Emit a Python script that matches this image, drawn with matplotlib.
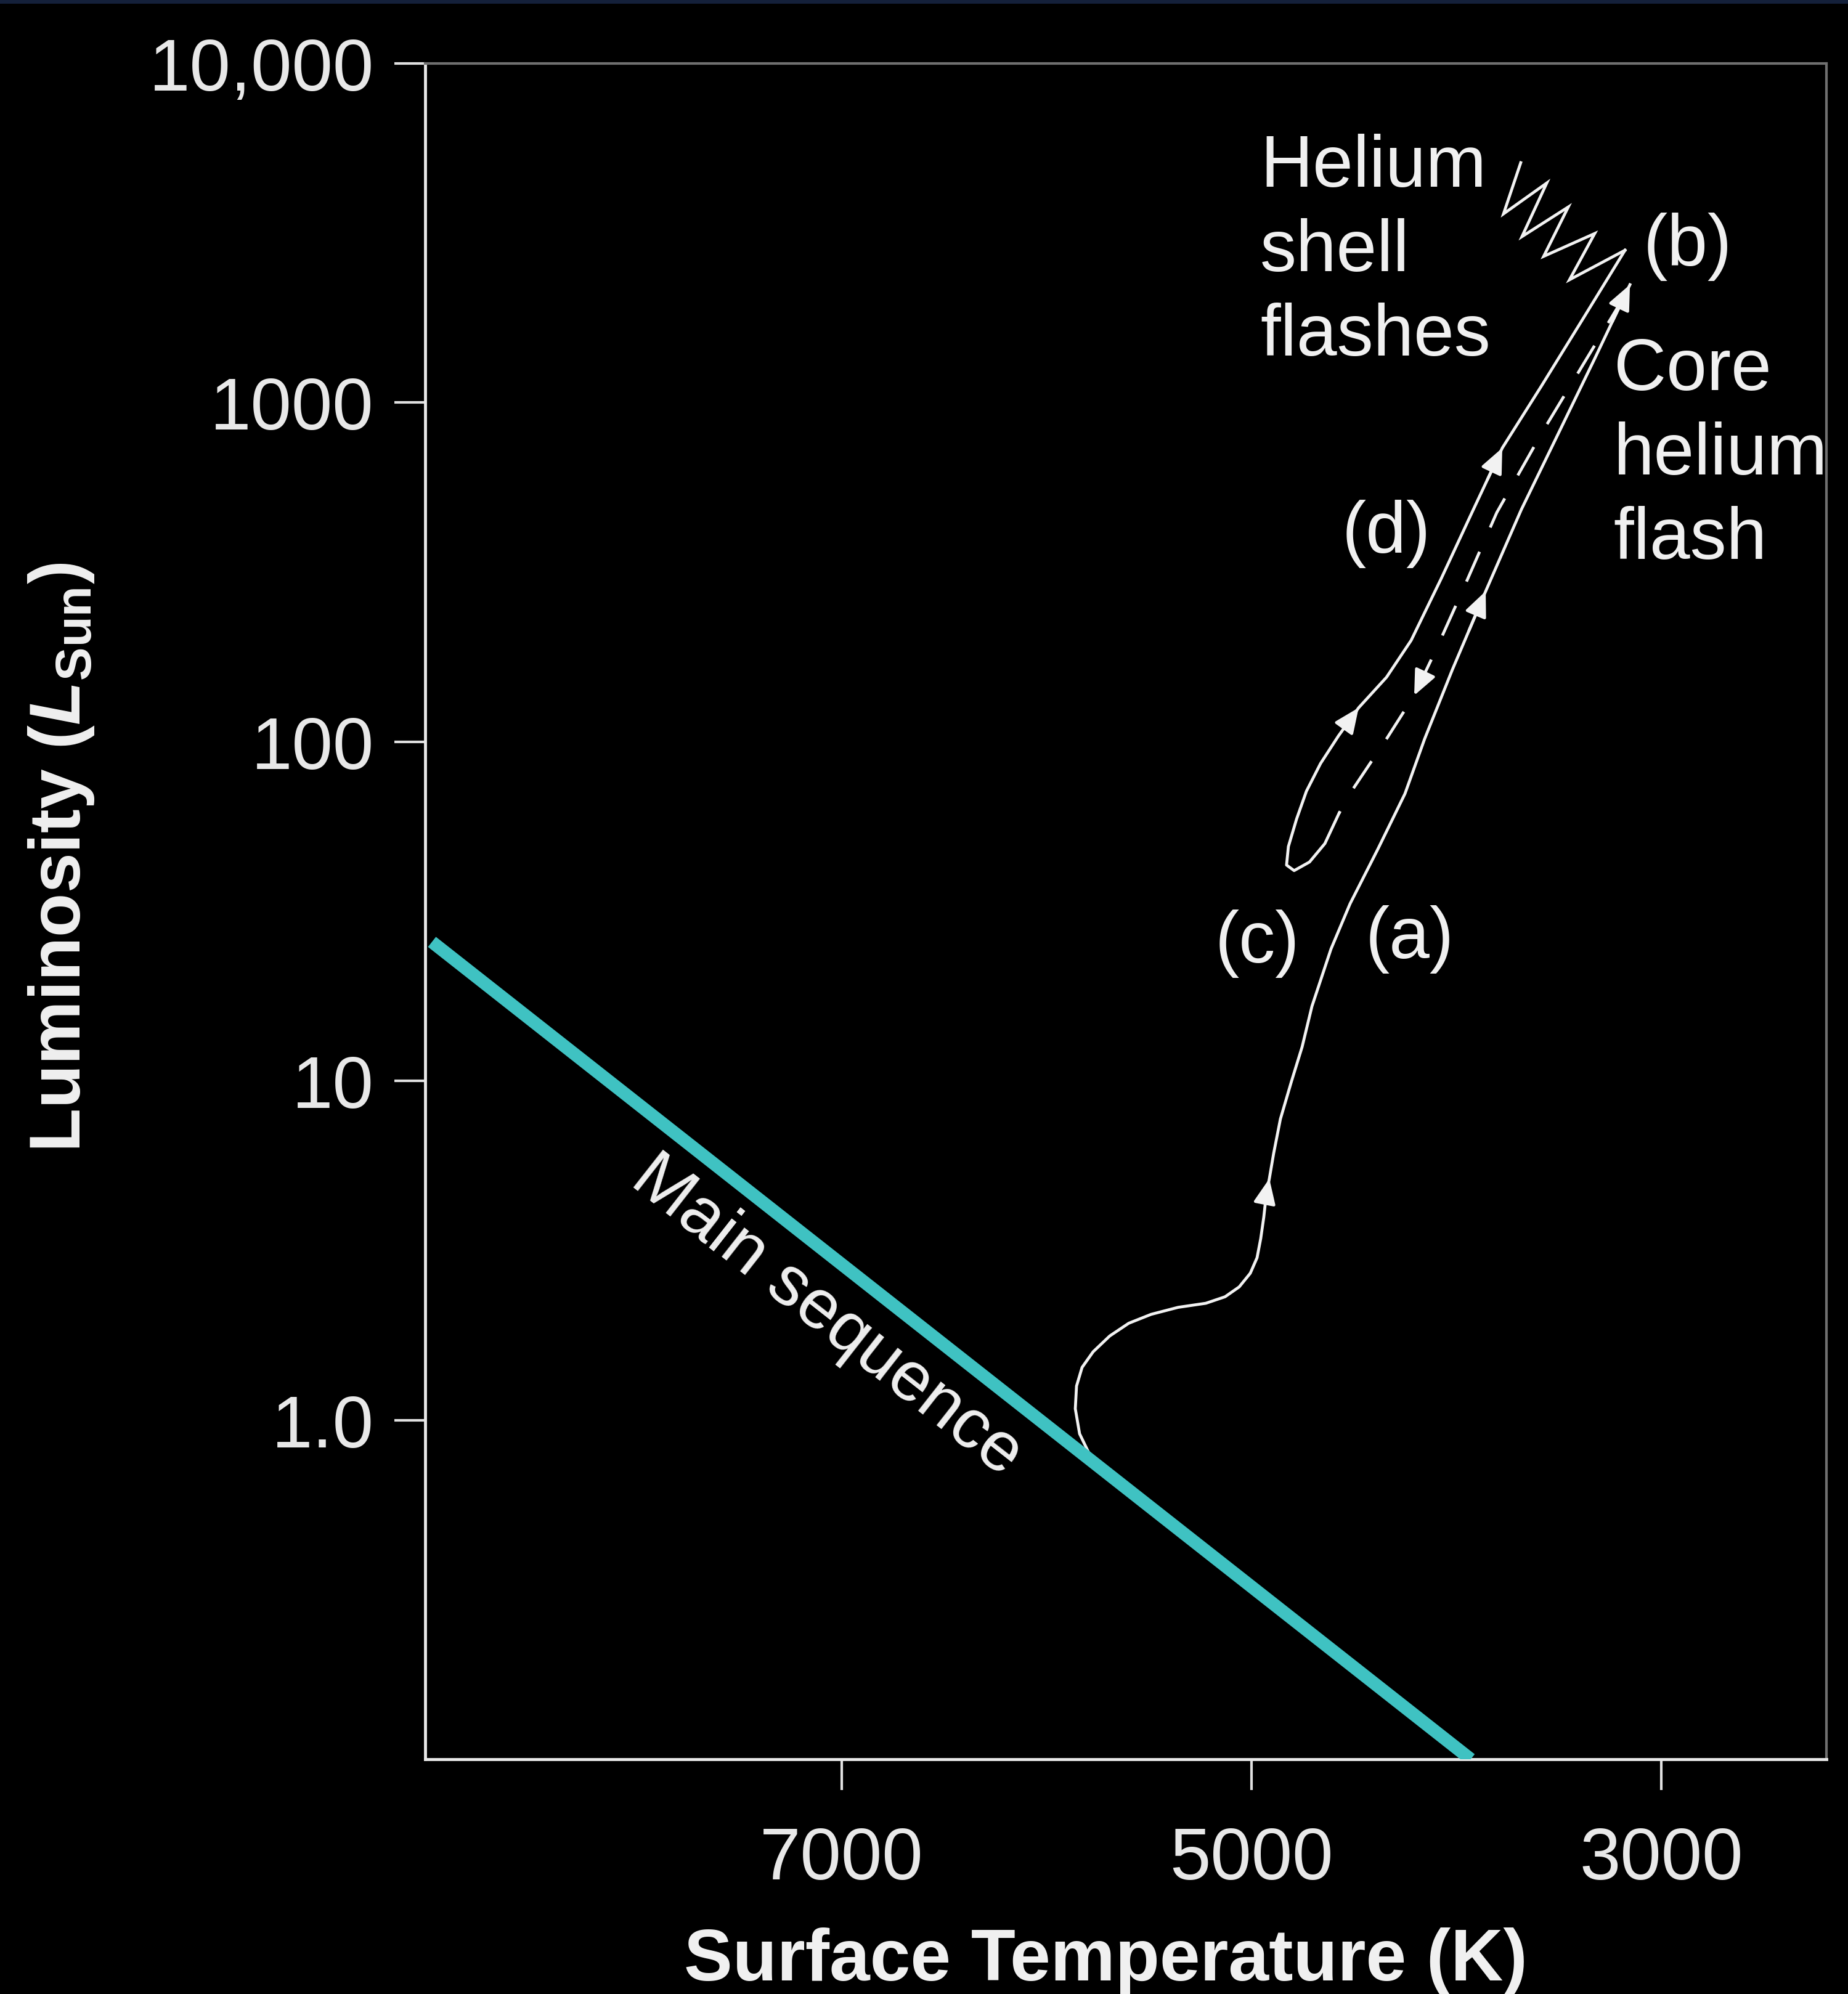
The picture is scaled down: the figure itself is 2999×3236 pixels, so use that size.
import numpy as np
import matplotlib
matplotlib.use('Agg')
import matplotlib.pyplot as plt
from matplotlib.patches import Rectangle
from matplotlib.ticker import NullLocator, FixedLocator, FixedFormatter

plt.rcParams['font.family'] = ['Liberation Sans', 'DejaVu Sans']
plt.rcParams['mathtext.fontset'] = 'custom'
plt.rcParams['mathtext.rm'] = 'Liberation Sans'
plt.rcParams['mathtext.it'] = 'Liberation Sans:italic'
plt.rcParams['mathtext.bf'] = 'Liberation Sans:bold'
plt.rcParams['mathtext.bfit'] = 'Liberation Sans:bold:italic'
plt.rcParams['lines.scale_dashes'] = False

# ---------------- data ----------------
x_ticks = [7000, 5000, 3000]
x_tick_labels = ['7000', '5000', '3000']
y_ticks = [1, 10, 100, 1000, 10000]
y_tick_labels = ['1.0', '10', '100', '1000', '10,000']

# main sequence
ms_temp = [9000, 3930]
ms_lum = [25.7, 0.10]

# subgiant + red giant branch (a) up to the tip (b)
rgb_temp = [5785, 5839, 5860, 5854, 5827, 5773, 5692, 5599, 5490, 5358, 5223,
            5129, 5060, 5006, 4973, 4955, 4940, 4928, 4913, 4892, 4859, 4805,
            4753, 4705, 4612, 4519, 4383, 4251, 4155, 4020, 3857, 3683, 3496,
            3325, 3153]
rgb_lum = [0.78, 0.911, 1.08, 1.26, 1.43, 1.59, 1.77, 1.93, 2.05, 2.15, 2.21,
           2.31, 2.47, 2.71, 3.01, 3.43, 3.97, 4.62, 5.15, 6.11, 7.72, 9.97,
           12.6, 16.6, 24.5, 33.3, 48.3, 70.3, 102, 163, 278, 484, 826,
           1348, 2227]
rgb_arrow_idx = [18, 30, 34]

# core helium flash (dashed) down to the horizontal branch (c)
flash_temp = [3177, 3577, 3803, 3977, 4101, 4206, 4341, 4516, 4573]
flash_lum = [2074, 826, 474, 273, 186, 137, 102, 70.9, 61.5]
flash_arrow_idx = [5]

# horizontal branch loop + asymptotic giant branch (d)
agb_temp = [4573, 4642, 4717, 4792, 4829, 4820, 4780, 4732, 4663, 4576, 4477,
            4341, 4221, 4074, 3920, 3776, 3586, 3376, 3177]
agb_lum = [61.5, 50.1, 44.2, 41.7, 43.3, 49.1, 59.2, 71.5, 86.3, 104, 126,
           155, 199, 303, 480, 735, 1117, 1792, 2814]
agb_arrow_idx = [10, 15]

# helium shell flashes (zigzag)
shell_temp = [3177, 3448, 3325, 3574, 3454, 3680, 3559, 3770, 3686]
shell_lum = [2814, 2303, 3152, 2700, 3774, 3087, 4441, 3603, 5099]

# ---------------- figure ----------------
W, H = 2999, 3237
fig = plt.figure(figsize=(W / 100, H / 100), dpi=100, facecolor='black')
ax = fig.add_axes([690 / W, 1 - 2856 / H, (2964 - 690) / W, (2856 - 104) / H])
ax.set_facecolor('black')
ax.set_yscale('log')
ax.set_xlim(9033, 2194)
ax.set_ylim(0.1, 10000)

track_color = '#f2f2f2'
ms_color = '#3fc2c2'
lw_track = 3.4

# main sequence
ax.plot(ms_temp, ms_lum, color=ms_color, lw=15, solid_capstyle='butt', zorder=4)
ax.text(7072, 2.03, 'Main sequence', rotation=-38.1, rotation_mode='anchor',
        ha='center', va='center', fontsize=82, color='#f0f0f0', zorder=5)

# tracks
ax.plot(rgb_temp, rgb_lum, color=track_color, lw=lw_track,
        solid_joinstyle='round', zorder=3)
ax.plot(flash_temp, flash_lum, color=track_color, lw=lw_track,
        dashes=(38, 31), zorder=3)
ax.plot(agb_temp, agb_lum, color=track_color, lw=lw_track,
        solid_joinstyle='round', zorder=3)
ax.plot(shell_temp, shell_lum, color=track_color, lw=lw_track,
        solid_joinstyle='miter', zorder=3)


def add_arrows(temps, lums, idxs):
    for i in idxs:
        t1, l1 = temps[i], lums[i]
        t0, l0 = temps[i - 1], lums[i - 1]
        tb = t1 - 0.5 * (t1 - t0)
        lb = 10 ** (np.log10(l1) - 0.5 * (np.log10(l1) - np.log10(l0)))
        ax.annotate('', xy=(t1, l1), xytext=(tb, lb),
                    arrowprops=dict(arrowstyle='-|>,head_length=0.5,head_width=0.22',
                                    mutation_scale=50, color=track_color,
                                    lw=lw_track, shrinkA=0, shrinkB=0),
                    zorder=4)


add_arrows(rgb_temp, rgb_lum, rgb_arrow_idx)
add_arrows(flash_temp, flash_lum, flash_arrow_idx)
add_arrows(agb_temp, agb_lum, agb_arrow_idx)

# annotations
txt_kw = dict(color='#f0f0f0', fontsize=85, zorder=5)
ax.text(4958, 6233, 'Helium\nshell\nflashes', ha='left', va='top',
        linespacing=1.30, **txt_kw)
ax.text(3232, 1567, 'Core\nhelium\nflash', ha='left', va='top',
        linespacing=1.30, **txt_kw)
ax.text(2871, 2898, '(b)', ha='center', va='center', **txt_kw)
ax.text(4341, 411, '(d)', ha='center', va='center', **txt_kw)
ax.text(4973, 25.5, '(c)', ha='center', va='center', **txt_kw)
ax.text(4227, 26.2, '(a)', ha='center', va='center', **txt_kw)

# axes styling
ax.xaxis.set_major_locator(FixedLocator(x_ticks))
ax.xaxis.set_major_formatter(FixedFormatter(x_tick_labels))
ax.yaxis.set_major_locator(FixedLocator(y_ticks))
ax.yaxis.set_major_formatter(FixedFormatter(y_tick_labels))
ax.xaxis.set_minor_locator(NullLocator())
ax.yaxis.set_minor_locator(NullLocator())
ax.tick_params(axis='both', direction='out', length=36, width=3,
               color='#e0e0e0', labelcolor='#e8e8e8', labelsize=86)
ax.tick_params(axis='x', pad=42)
ax.tick_params(axis='y', pad=24)
for s in ['left', 'bottom']:
    ax.spines[s].set_color('#e8e8e8')
    ax.spines[s].set_linewidth(3.5)
for s in ['top', 'right']:
    ax.spines[s].set_color('#707070')
    ax.spines[s].set_linewidth(3)

fig.text(1794 / W, 1 - 3214 / H, 'Surface Temperature (K)', ha='center',
         va='baseline', fontsize=85, fontweight='bold', color='#f0f0f0')
fig.text(100 / W, 1 - 1391 / H, r'Luminosity ($\mathbfit{L}_{\mathbf{Sun}}$)',
         rotation=90, ha='center', va='center', fontsize=84,
         fontweight='bold', color='#f0f0f0')

fig.patches.append(Rectangle((0, 1 - 7 / H), 1, 7 / H, transform=fig.transFigure,
                             facecolor='#14203a', edgecolor='none', zorder=10))

fig.savefig('out.png', dpi=100, facecolor='black')
